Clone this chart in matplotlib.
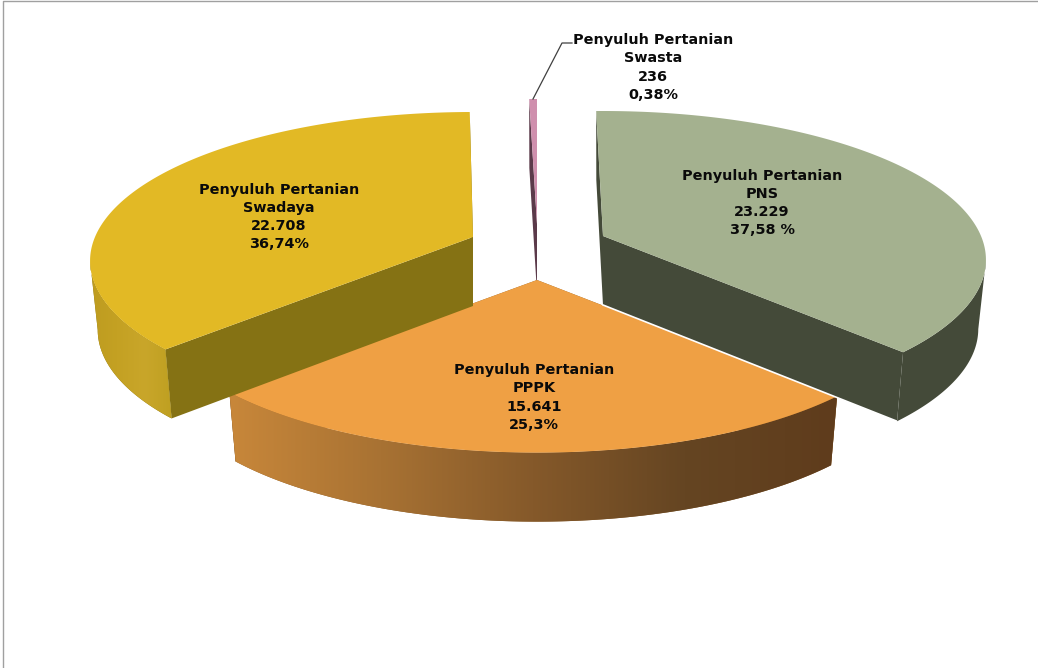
import numpy as np
import matplotlib
matplotlib.use("Agg")
import matplotlib.pyplot as plt
from matplotlib.colors import LinearSegmentedColormap
from matplotlib.patches import Polygon

CATEGORIES = ["PNS", "PPPK", "Swadaya", "Swasta"]
VALUES = [23229, 15641, 22708, 236]
VALUE_LABELS = ["23.229", "15.641", "22.708", "236"]
PCT_LABELS = ["37,58 %", "25,3%", "36,74%", "0,38%"]

# styling per slice
TOP_COLORS = ["#A4B18F", "#EFA044", "#E2B925", "#CF8FAD"]
WALL_COLORS = ["#444A39", "#8A5E2C", "#857214", "#5B3A4A"]
CENTERS = [(603, 236), (537, 280), (473, 237), (537, 224)]
START_NUDGE = [1.2, 0, 0, 0]
END_NUDGE = [0, 0, -0.8, 0]
LABEL_POS = [(762, 203), (534, 397.5), (279, 217), (653, 67.5)]
DRAW_ORDER = [3, 1, 2, 0]

# projection of the pie plane, in pixels
A, B, K = 378, 145, 0.16
DEPTH = 69
BOTTOM_SHRINK = 0.98

ORANGE_RAMP = LinearSegmentedColormap.from_list(
    "orange_wall", ["#C8873A", "#A87233", "#85592A", "#654522", "#5F3C1C"])
YELLOW_RAMP = LinearSegmentedColormap.from_list(
    "yellow_wall", ["#BE9C20", "#C4A123", "#C9A62A", "#BFA021"])
WALL_RAMPS = {1: ORANGE_RAMP, 2: YELLOW_RAMP}


def top_xy(center, theta):
    theta = np.radians(theta)
    den = 1 + K * np.sin(theta)
    return center[0] + A * np.cos(theta) / den, center[1] - B * np.sin(theta) / den


def bottom_xy(center, theta):
    x, y = top_xy(center, theta)
    return center[0] + (x - center[0]) * BOTTOM_SHRINK, y + DEPTH


def radial_face(center, theta):
    cx, cy = center
    return [top_xy(center, theta), (cx, cy), (cx, cy + DEPTH), bottom_xy(center, theta)]


fig = plt.figure(figsize=(10.38, 6.68), dpi=100)
ax = fig.add_axes([0, 0, 1, 1])
ax.set_xlim(0, 1038)
ax.set_ylim(668, 0)
ax.axis("off")

# slide frame
ax.plot([3, 3, 1038], [668, 1, 1], color="#A0A0A0", linewidth=1.0)

spans = 360 * np.array(VALUES) / sum(VALUES)
ends = 90 - np.cumsum(spans)
starts = ends + spans

for order, i in enumerate(DRAW_ORDER):
    center = CENTERS[i]
    z = 2 + order
    th1 = starts[i] + START_NUDGE[i]
    th2 = ends[i] + END_NUDGE[i]
    thetas = np.linspace(th2, th1, 400)

    # the radial walls go in first, the top covers whatever sits behind it
    for theta in (th1, th2):
        ax.add_patch(Polygon(radial_face(center, theta), closed=True,
                             facecolor=WALL_COLORS[i], edgecolor="none", zorder=z))
    if i == 0:
        edge = radial_face(center, th2)[2:]
        ax.plot([p[0] for p in edge], [p[1] for p in edge], color="white",
                linewidth=1.2, zorder=z)

    # outer wall: near side only, up to where the rim turns (sin = -K)
    near = thetas[np.sin(np.radians(thetas)) < -K]
    if len(near) > 1:
        outer = [top_xy(center, t) for t in near] + [bottom_xy(center, t) for t in near[::-1]]
        wall = Polygon(outer, closed=True, facecolor=WALL_COLORS[i], edgecolor="none", zorder=z)
        ax.add_patch(wall)
        if i in WALL_RAMPS:
            xs = [p[0] for p in outer]
            ys = [p[1] for p in outer]
            img = ax.imshow(np.linspace(0, 1, 256)[None, :], cmap=WALL_RAMPS[i], aspect="auto",
                            extent=(min(xs), max(xs), max(ys), min(ys)), zorder=z)
            img.set_clip_path(wall)

    top = [center] + [top_xy(center, t) for t in thetas]
    ax.add_patch(Polygon(top, closed=True, facecolor=TOP_COLORS[i], edgecolor="none", zorder=z))

ax.set_xlim(0, 1038)
ax.set_ylim(668, 0)

# leader line for the small slice
ax.plot([533, 562, 572], [99, 43, 43], color="#404040", linewidth=0.9, zorder=8)

for i, name in enumerate(CATEGORIES):
    label = f"Penyuluh Pertanian\n{name}\n{VALUE_LABELS[i]}\n{PCT_LABELS[i]}"
    ax.text(LABEL_POS[i][0], LABEL_POS[i][1], label, ha="center", va="center",
            family="DejaVu Sans", fontweight="bold", fontsize=10.4, color="#0A0A0A",
            linespacing=1.38, zorder=10)

fig.savefig("out.png", dpi=100)
